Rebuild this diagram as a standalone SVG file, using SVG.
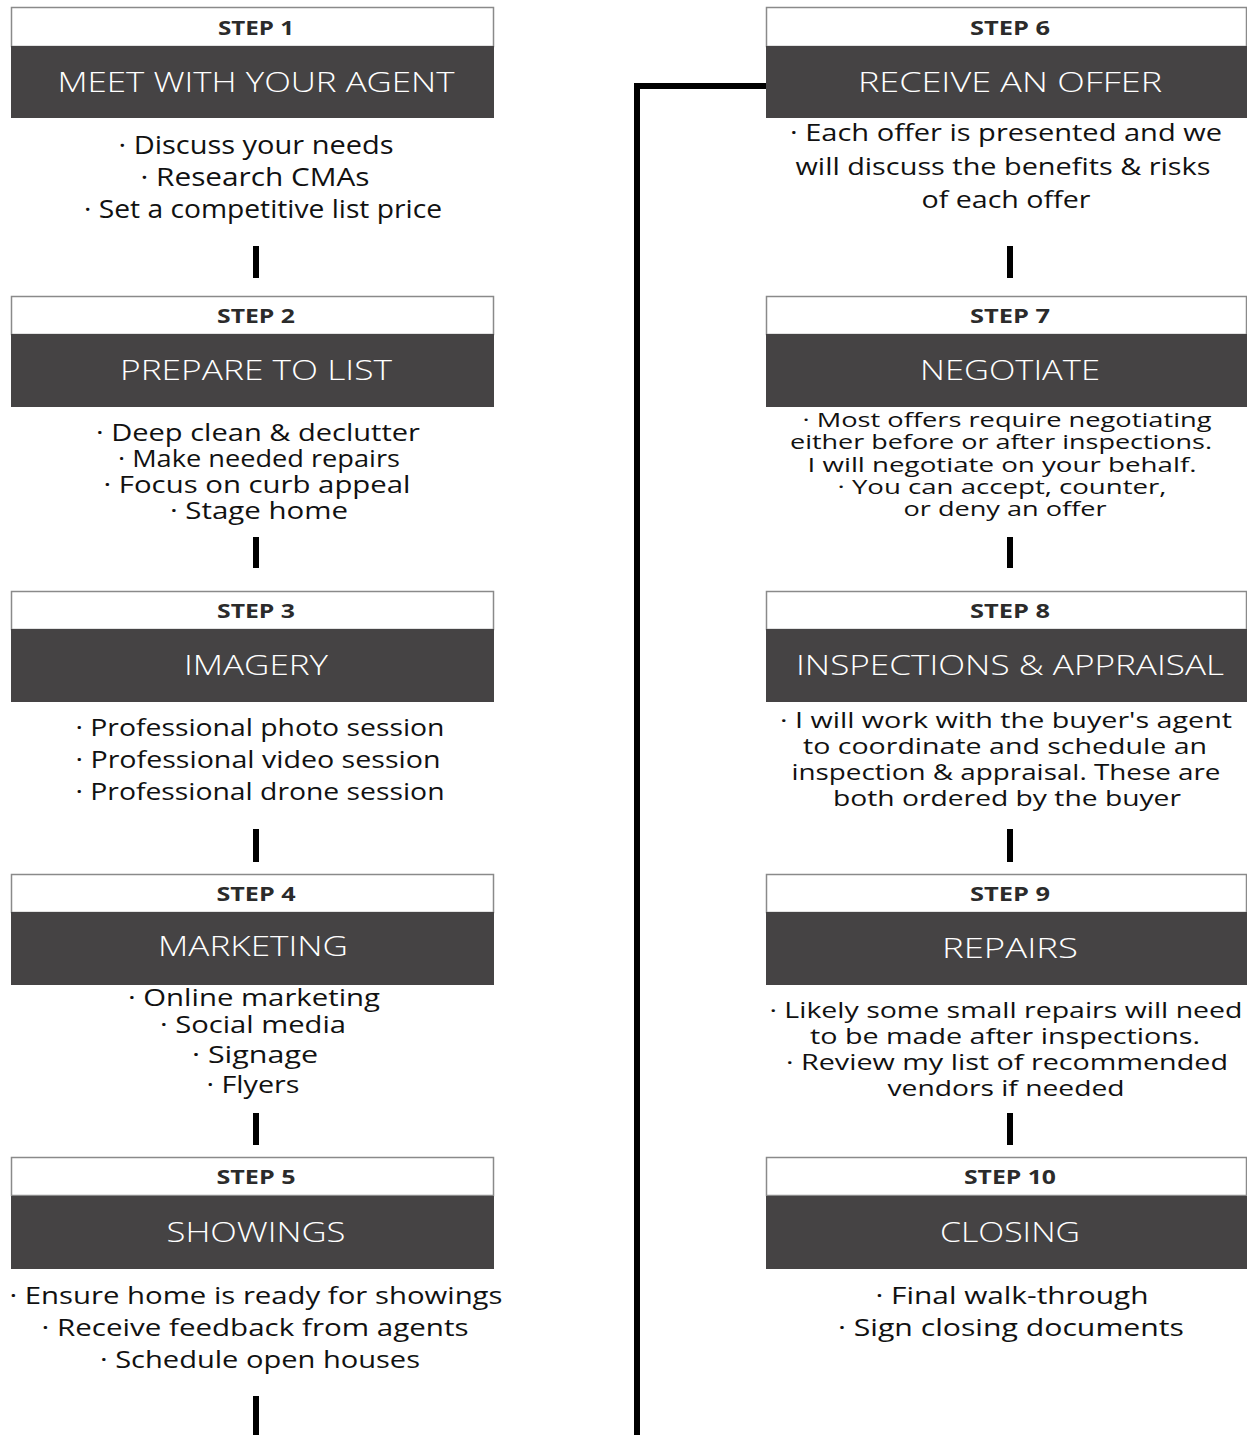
<svg xmlns="http://www.w3.org/2000/svg" width="1247" height="1435" viewBox="0 0 1247 1435">
<style>
.hdr{fill:#ffffff;stroke:#8a8a8a;stroke-width:1.5}
.band{fill:#454344}
text{font-family:"Open Sans","Liberation Sans",sans-serif;text-anchor:middle}
.step{font-weight:700;font-size:19.5px;fill:#2b2b2b}
.title{font-weight:300;font-size:28px;fill:#ffffff}
.body{font-weight:400;font-size:24px;fill:#111111}
.s20{font-size:20px}
.s21{font-size:21px}
.s22{font-size:22px}
.s23{font-size:23px}
.s25{font-size:25px}
.bar{fill:#000000}
.conn{fill:none;stroke:#000000;stroke-width:6}
</style>
<rect width="1247" height="1435" fill="#ffffff"/>
<g id="connectors">
<rect class="bar" x="253" y="246" width="6" height="32"/>
<rect class="bar" x="253" y="537" width="6" height="31"/>
<rect class="bar" x="253" y="829" width="6" height="33"/>
<rect class="bar" x="253" y="1113" width="6" height="32"/>
<rect class="bar" x="253" y="1396" width="6" height="39"/>
<rect class="bar" x="1007" y="246" width="6" height="32"/>
<rect class="bar" x="1007" y="537" width="6" height="31"/>
<rect class="bar" x="1007" y="829" width="6" height="33"/>
<rect class="bar" x="1007" y="1113" width="6" height="32"/>
<path class="conn" d="M637 1435 V86 H766"/>
</g>
<g id="step1">
<rect class="hdr" x="11.5" y="7.5" width="482" height="39"/>
<rect class="band" x="11" y="46" width="483" height="72"/>
<text class="step" x="256" y="35" textLength="76" lengthAdjust="spacingAndGlyphs">STEP 1</text>
<text class="title" x="256" y="92" textLength="397" lengthAdjust="spacingAndGlyphs">MEET WITH YOUR AGENT</text>
<text class="body s25" x="256" y="154" textLength="275" lengthAdjust="spacingAndGlyphs">· Discuss your needs</text>
<text class="body s25" x="255" y="186" textLength="229" lengthAdjust="spacingAndGlyphs">· Research CMAs</text>
<text class="body s25" x="263" y="218" textLength="358" lengthAdjust="spacingAndGlyphs">· Set a competitive list price</text>
</g>
<g id="step2">
<rect class="hdr" x="11.5" y="296.5" width="482" height="38"/>
<rect class="band" x="11" y="334" width="483" height="73"/>
<text class="step" x="256" y="323" textLength="78" lengthAdjust="spacingAndGlyphs">STEP 2</text>
<text class="title" x="256" y="380" textLength="272" lengthAdjust="spacingAndGlyphs">PREPARE TO LIST</text>
<text class="body s23" x="258" y="441" textLength="324" lengthAdjust="spacingAndGlyphs">· Deep clean &amp; declutter</text>
<text class="body s23" x="259" y="467" textLength="282" lengthAdjust="spacingAndGlyphs">· Make needed repairs</text>
<text class="body s23" x="257" y="493" textLength="307" lengthAdjust="spacingAndGlyphs">· Focus on curb appeal</text>
<text class="body s23" x="259" y="519" textLength="178" lengthAdjust="spacingAndGlyphs">· Stage home</text>
</g>
<g id="step3">
<rect class="hdr" x="11.5" y="591.5" width="482" height="38"/>
<rect class="band" x="11" y="629" width="483" height="73"/>
<text class="step" x="256" y="618" textLength="78" lengthAdjust="spacingAndGlyphs">STEP 3</text>
<text class="title" x="256" y="675" textLength="144" lengthAdjust="spacingAndGlyphs">IMAGERY</text>
<text class="body" x="260" y="736" textLength="369" lengthAdjust="spacingAndGlyphs">· Professional photo session</text>
<text class="body" x="258" y="768" textLength="365" lengthAdjust="spacingAndGlyphs">· Professional video session</text>
<text class="body" x="260" y="800" textLength="369" lengthAdjust="spacingAndGlyphs">· Professional drone session</text>
</g>
<g id="step4">
<rect class="hdr" x="11.5" y="874.5" width="482" height="38"/>
<rect class="band" x="11" y="912" width="483" height="73"/>
<text class="step" x="256" y="901" textLength="79" lengthAdjust="spacingAndGlyphs">STEP 4</text>
<text class="title" x="253" y="956" textLength="190" lengthAdjust="spacingAndGlyphs">MARKETING</text>
<text class="body s23" x="254" y="1006" textLength="252" lengthAdjust="spacingAndGlyphs">· Online marketing</text>
<text class="body s23" x="253" y="1033" textLength="186" lengthAdjust="spacingAndGlyphs">· Social media</text>
<text class="body s23" x="255" y="1063" textLength="126" lengthAdjust="spacingAndGlyphs">· Signage</text>
<text class="body s23" x="253" y="1093" textLength="93" lengthAdjust="spacingAndGlyphs">· Flyers</text>
</g>
<g id="step5">
<rect class="hdr" x="11.5" y="1157.5" width="482" height="38"/>
<rect class="band" x="11" y="1196" width="483" height="73"/>
<text class="step" x="256" y="1184" textLength="79" lengthAdjust="spacingAndGlyphs">STEP 5</text>
<text class="title" x="256" y="1242" textLength="179" lengthAdjust="spacingAndGlyphs">SHOWINGS</text>
<text class="body" x="256" y="1304" textLength="493" lengthAdjust="spacingAndGlyphs">· Ensure home is ready for showings</text>
<text class="body" x="255" y="1336" textLength="427" lengthAdjust="spacingAndGlyphs">· Receive feedback from agents</text>
<text class="body" x="260" y="1368" textLength="320" lengthAdjust="spacingAndGlyphs">· Schedule open houses</text>
</g>
<g id="step6">
<rect class="hdr" x="766.5" y="7.5" width="480" height="39"/>
<rect class="band" x="766" y="46" width="481" height="72"/>
<text class="step" x="1010" y="35" textLength="80" lengthAdjust="spacingAndGlyphs">STEP 6</text>
<text class="title" x="1010" y="92" textLength="304" lengthAdjust="spacingAndGlyphs">RECEIVE AN OFFER</text>
<text class="body" x="1006" y="141" textLength="432" lengthAdjust="spacingAndGlyphs">· Each offer is presented and we</text>
<text class="body" x="1003" y="175" textLength="415" lengthAdjust="spacingAndGlyphs">will discuss the benefits &amp; risks</text>
<text class="body" x="1006" y="208" textLength="169" lengthAdjust="spacingAndGlyphs">of each offer</text>
</g>
<g id="step7">
<rect class="hdr" x="766.5" y="296.5" width="480" height="38"/>
<rect class="band" x="766" y="334" width="481" height="73"/>
<text class="step" x="1010" y="323" textLength="80" lengthAdjust="spacingAndGlyphs">STEP 7</text>
<text class="title" x="1010" y="380" textLength="180" lengthAdjust="spacingAndGlyphs">NEGOTIATE</text>
<text class="body s20" x="1007" y="427" textLength="409" lengthAdjust="spacingAndGlyphs">· Most offers require negotiating</text>
<text class="body s20" x="1001" y="449" textLength="422" lengthAdjust="spacingAndGlyphs">either before or after inspections.</text>
<text class="body s20" x="1002" y="472" textLength="389" lengthAdjust="spacingAndGlyphs">I will negotiate on your behalf.</text>
<text class="body s20" x="1002" y="494" textLength="329" lengthAdjust="spacingAndGlyphs">· You can accept, counter,</text>
<text class="body s20" x="1005" y="516" textLength="203" lengthAdjust="spacingAndGlyphs">or deny an offer</text>
</g>
<g id="step8">
<rect class="hdr" x="766.5" y="591.5" width="480" height="38"/>
<rect class="band" x="766" y="629" width="481" height="73"/>
<text class="step" x="1010" y="618" textLength="80" lengthAdjust="spacingAndGlyphs">STEP 8</text>
<text class="title" x="1010" y="675" textLength="428" lengthAdjust="spacingAndGlyphs">INSPECTIONS &amp; APPRAISAL</text>
<text class="body s21" x="1006" y="728" textLength="452" lengthAdjust="spacingAndGlyphs">· I will work with the buyer's agent</text>
<text class="body s21" x="1005" y="754" textLength="404" lengthAdjust="spacingAndGlyphs">to coordinate and schedule an</text>
<text class="body s21" x="1006" y="780" textLength="429" lengthAdjust="spacingAndGlyphs">inspection &amp; appraisal. These are</text>
<text class="body s21" x="1007" y="806" textLength="348" lengthAdjust="spacingAndGlyphs">both ordered by the buyer</text>
</g>
<g id="step9">
<rect class="hdr" x="766.5" y="874.5" width="480" height="38"/>
<rect class="band" x="766" y="912" width="481" height="73"/>
<text class="step" x="1010" y="901" textLength="80" lengthAdjust="spacingAndGlyphs">STEP 9</text>
<text class="title" x="1010" y="958" textLength="136" lengthAdjust="spacingAndGlyphs">REPAIRS</text>
<text class="body s22" x="1006" y="1018" textLength="473" lengthAdjust="spacingAndGlyphs">· Likely some small repairs will need</text>
<text class="body s22" x="1005" y="1044" textLength="390" lengthAdjust="spacingAndGlyphs">to be made after inspections.</text>
<text class="body s22" x="1007" y="1070" textLength="442" lengthAdjust="spacingAndGlyphs">· Review my list of recommended</text>
<text class="body s22" x="1006" y="1096" textLength="237" lengthAdjust="spacingAndGlyphs">vendors if needed</text>
</g>
<g id="step10">
<rect class="hdr" x="766.5" y="1157.5" width="480" height="38"/>
<rect class="band" x="766" y="1196" width="481" height="73"/>
<text class="step" x="1010" y="1184" textLength="92" lengthAdjust="spacingAndGlyphs">STEP 10</text>
<text class="title" x="1010" y="1242" textLength="140" lengthAdjust="spacingAndGlyphs">CLOSING</text>
<text class="body" x="1012" y="1304" textLength="273" lengthAdjust="spacingAndGlyphs">· Final walk-through</text>
<text class="body" x="1011" y="1336" textLength="346" lengthAdjust="spacingAndGlyphs">· Sign closing documents</text>
</g>
</svg>
